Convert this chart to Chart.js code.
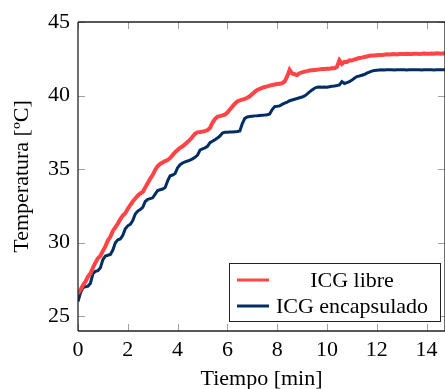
<!DOCTYPE html>
<html><head><meta charset="utf-8">
<script src="https://cdn.jsdelivr.net/npm/chart.js@4/dist/chart.umd.min.js"></script>
<style>html,body{margin:0;padding:0;background:#fff;overflow:hidden}#wrap{width:445px;height:389px;position:relative}</style>
</head><body><div id="wrap"><canvas id="c" width="445" height="389"></canvas></div>
<script>
const times = [0,0.1,0.2,0.3,0.4,0.5,0.6,0.7,0.8,0.9,1,1.1,1.2,1.3,1.4,1.5,1.6,1.7,1.8,1.9,2,2.1,2.2,2.3,2.4,2.5,2.6,2.7,2.8,2.9,3,3.1,3.2,3.3,3.4,3.5,3.6,3.7,3.8,3.9,4,4.1,4.2,4.3,4.4,4.5,4.6,4.7,4.8,4.9,5,5.1,5.2,5.3,5.4,5.5,5.6,5.7,5.8,5.9,6,6.1,6.2,6.3,6.4,6.5,6.6,6.7,6.8,6.9,7,7.1,7.2,7.3,7.4,7.5,7.6,7.7,7.8,7.9,8,8.1,8.2,8.3,8.4,8.5,8.6,8.7,8.8,8.9,9,9.1,9.2,9.3,9.4,9.5,9.6,9.7,9.8,9.9,10,10.1,10.2,10.3,10.4,10.5,10.6,10.7,10.8,10.9,11,11.1,11.2,11.3,11.4,11.5,11.6,11.7,11.8,11.9,12,12.1,12.2,12.3,12.4,12.5,12.6,12.7,12.8,12.9,13,13.1,13.2,13.3,13.4,13.5,13.6,13.7,13.8,13.9,14,14.1,14.2,14.3,14.4,14.5,14.6,14.7,14.8];
const icgLibre = [26.55,26.8,27.1,27.35,27.7,27.9,28.3,28.65,28.95,29.1,
29.45,29.75,30.15,30.4,30.8,31.05,31.3,31.6,31.85,32.0,
32.3,32.55,32.8,33.0,33.2,33.35,33.45,33.75,34.05,34.35,
34.6,34.95,35.2,35.35,35.45,35.55,35.62,35.75,35.95,36.15,
36.3,36.45,36.55,36.7,36.85,37.0,37.2,37.4,37.5,37.52,
37.55,37.58,37.65,37.8,38.15,38.4,38.55,38.6,38.65,38.7,
38.85,39.05,39.25,39.45,39.6,39.68,39.72,39.78,39.85,39.95,
40.1,40.25,40.38,40.45,40.52,40.58,40.62,40.68,40.72,40.75,
40.78,40.8,40.85,40.95,41.3,41.75,41.5,41.45,41.4,41.52,
41.58,41.63,41.66,41.7,41.72,41.74,41.76,41.78,41.8,41.8,
41.82,41.83,41.85,41.86,41.95,42.4,42.15,42.3,42.28,42.4,
42.38,42.45,42.5,42.55,42.58,42.62,42.66,42.7,42.72,42.73,
42.74,42.75,42.76,42.78,42.8,42.79,42.81,42.82,42.8,42.83,
42.83,42.82,42.84,42.83,42.82,42.84,42.85,42.83,42.84,42.86,
42.85,42.84,42.86,42.85,42.87,42.86,42.85,42.87,42.86];
const icgEncapsulado = [26.0,26.6,26.95,27.0,27.05,27.25,27.9,28.05,28.1,28.3,
28.85,29.1,29.15,29.2,29.5,30.0,30.2,30.25,30.5,30.95,
31.15,31.25,31.5,31.95,32.15,32.25,32.4,32.8,32.95,33.0,
33.05,33.3,33.55,33.6,33.65,33.75,34.2,34.55,34.6,34.7,
35.1,35.3,35.42,35.5,35.55,35.62,35.7,35.8,35.95,36.3,
36.38,36.45,36.55,36.8,36.9,37.0,37.12,37.25,37.45,37.5,
37.5,37.52,37.52,37.54,37.56,37.6,38.1,38.45,38.55,38.58,
38.6,38.62,38.63,38.65,38.67,38.68,38.7,38.75,39.05,39.25,
39.27,39.3,39.4,39.48,39.56,39.65,39.7,39.75,39.8,39.85,
39.9,39.98,40.1,40.25,40.38,40.5,40.57,40.58,40.56,40.58,
40.57,40.6,40.63,40.65,40.68,40.72,40.95,40.82,40.88,40.94,
41.05,41.18,41.29,41.33,41.38,41.43,41.52,41.6,41.66,41.7,
41.72,41.74,41.75,41.74,41.75,41.76,41.75,41.74,41.75,41.75,
41.76,41.75,41.74,41.75,41.75,41.76,41.75,41.75,41.74,41.75,
41.76,41.75,41.75,41.74,41.75,41.75,41.76,41.75,41.75];
const seriesNames = ['ICG libre','ICG encapsulado'];
const xTicks = [0,2,4,6,8,10,12,14];
const yTicks = [25,30,35,40,45];

const FONT = "'Liberation Serif', 'DejaVu Serif', serif";
const RED = 'rgb(255,68,70)';
const BLUE = 'rgb(0,46,100)';

function pts(ys){ return times.map((t,i)=>({x:t,y:ys[i]})); }

const framePlugin = {
  id:'frame',
  afterDatasetsDraw(chart){
    const {ctx, chartArea:a, scales:{x,y}} = chart;
    ctx.save();
    ctx.strokeStyle = '#a0a0a0'; ctx.lineWidth = 1;
    ctx.beginPath();
    xTicks.forEach(v=>{ const px=Math.round(x.getPixelForValue(v))+0.5;
      ctx.moveTo(px,a.bottom); ctx.lineTo(px,a.bottom-7);
      ctx.moveTo(px,a.top); ctx.lineTo(px,a.top+7); });
    yTicks.forEach(v=>{ const py=Math.round(y.getPixelForValue(v))+0.5;
      ctx.moveTo(a.left,py); ctx.lineTo(a.left+7,py);
      ctx.moveTo(a.right,py); ctx.lineTo(a.right-7,py); });
    ctx.stroke();
    ctx.strokeStyle = '#222'; ctx.lineWidth = 1.3;
    ctx.beginPath();
    ctx.moveTo(a.left, a.top); ctx.lineTo(a.left, a.bottom);
    ctx.moveTo(a.left, a.top); ctx.lineTo(a.right, a.top);
    ctx.moveTo(a.left, a.bottom); ctx.lineTo(a.right, a.bottom);
    ctx.moveTo(a.right, a.top); ctx.lineTo(a.right, a.bottom);
    ctx.stroke();
    // legend
    const bx=229.5, by=263.5, bw=211, bh=58;
    ctx.fillStyle='#fff'; ctx.fillRect(bx,by,bw,bh);
    ctx.strokeStyle='#222'; ctx.lineWidth=1; ctx.strokeRect(bx,by,bw,bh);
    const rows=[280,306];
    chart.data.datasets.forEach((ds,i)=>{
      ctx.strokeStyle=ds.borderColor; ctx.lineWidth=3;
      ctx.beginPath(); ctx.moveTo(237,rows[i]); ctx.lineTo(269,rows[i]); ctx.stroke();
      ctx.fillStyle='#000'; ctx.font='22px '+FONT; ctx.textAlign='center'; ctx.textBaseline='middle';
      ctx.fillText(ds.label, 352, rows[i]+1);
    });
    ctx.restore();
  }
};

new Chart(document.getElementById('c'), {
  type:'line',
  data:{datasets:[
    {label:seriesNames[0], data:pts(icgLibre), borderColor:RED, borderWidth:4, pointRadius:0, tension:0},
    {label:seriesNames[1], data:pts(icgEncapsulado), borderColor:BLUE, borderWidth:3, pointRadius:0, tension:0}
  ]},
  options:{
    responsive:false, animation:false, devicePixelRatio:1,
    layout:{padding:{top:22,right:0,left:0,bottom:0}},
    plugins:{legend:{display:false}, tooltip:{enabled:false}},
    scales:{
      x:{type:'linear', min:0, max:14.74,
        afterBuildTicks:s=>{s.ticks=xTicks.map(v=>({value:v}));},
        afterFit:s=>{s.height=58;},
        grid:{display:false, drawTicks:false}, border:{display:false},
        ticks:{color:'#000', font:{family:FONT,size:22}, padding:6, maxRotation:0, autoSkip:false},
        title:{display:true, text:'Tiempo [min]', color:'#000', font:{family:FONT,size:22}, padding:{top:0,bottom:-3}}
      },
      y:{min:24, max:45,
        afterBuildTicks:s=>{s.ticks=yTicks.map(v=>({value:v}));},
        afterFit:s=>{s.width=78;},
        grid:{display:false, drawTicks:false}, border:{display:false},
        ticks:{color:'#000', font:{family:FONT,size:22}, padding:8},
        title:{display:true, text:'Temperatura [ºC]', color:'#000', font:{family:FONT,size:22}, padding:{top:9,bottom:0}}
      }
    }
  },
  plugins:[framePlugin]
});
</script></body></html>
